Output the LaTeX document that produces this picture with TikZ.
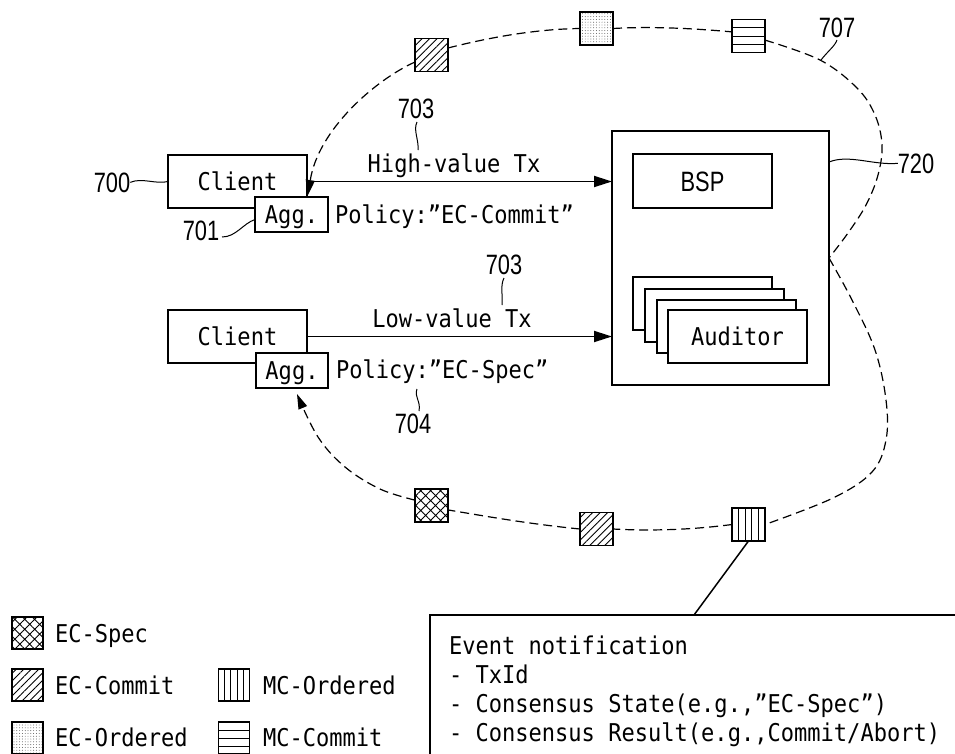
\documentclass[tikz,border=0pt]{standalone}
\usepackage{fontspec}
\newfontfamily\monof[FakeStretch=0.9]{DejaVu Sans Mono}
\newfontfamily\numf[FakeStretch=0.78]{Liberation Sans}
\usetikzlibrary{arrows.meta,patterns.meta,calc}
\begin{document}
\begin{tikzpicture}[x=1pt,y=-1pt,
  every node/.style={inner sep=0pt, outer sep=0pt},
  mtext/.style={font=\monof\fontsize{24.5}{29}\selectfont},
  ntext/.style={font=\numf\fontsize{28}{32}\selectfont},
  boxnode/.style={draw, line width=2pt, fill=white, mtext, text height=18pt, text depth=0pt},
  bspnode/.style={draw, line width=2pt, fill=white, ntext, text height=20pt, text depth=0pt},
  queue/.style={draw, line width=1.8pt, minimum width=33pt, minimum height=33pt, preaction={fill=white}},
  legsq/.style={minimum width=31pt, minimum height=32pt, line width=1.5pt},
  ecspec/.style={queue, pattern={Hatch[angle=45,distance=7pt,line width=0.9pt]}},
  eccommit/.style={queue, pattern={Lines[angle=45,distance=5.3pt,line width=0.9pt]}},
  ecordered/.style={queue, pattern={Dots[radius=0.45pt,distance=2.8pt]}, pattern color=black!75},
  mcordered/.style={queue, path picture={\foreach \k in {1,2,3,4}{\draw[line width=0.9pt] ($(path picture bounding box.north west)!\k/5!(path picture bounding box.north east)$) -- ($(path picture bounding box.south west)!\k/5!(path picture bounding box.south east)$);}}},
  mccommit/.style={queue, path picture={\foreach \k in {1,2,3}{\draw[line width=0.9pt] ($(path picture bounding box.north west)!\k/4!(path picture bounding box.south west)$) -- ($(path picture bounding box.north east)!\k/4!(path picture bounding box.south east)$);}}},
  txarrow/.style={line width=1.8pt, -{Triangle[length=18pt,width=11pt]}},
  looptip/.style={-{Triangle[length=15pt,width=9pt]}},
  loopline/.style={line width=1.2pt, dash pattern=on 9pt off 5pt},
  leader/.style={line width=1pt},
  evline/.style={line width=1.5pt}
]
\path[use as bounding box] (0,0) rectangle (955,753);
\clip (0,0) rectangle (955,753);

% big box
\node[draw, line width=2pt, minimum width=217pt, minimum height=254pt] (big) at (720.5,258) {};
\node[bspnode, minimum width=139pt, minimum height=54pt] (bsp) at (702.5,181) {BSP};
\node[boxnode, minimum width=139pt, minimum height=53pt] (aud1) at (702.5,303.5) {};
\node[boxnode, minimum width=139pt, minimum height=53pt] (aud2) at (714,315) {};
\node[boxnode, minimum width=139pt, minimum height=53pt] (aud3) at (726,326) {};
\node[boxnode, minimum width=139pt, minimum height=53pt] (aud4) at (737.5,336.5) {Auditor};

% clients
\node[boxnode, minimum width=139pt, minimum height=53pt] (client1) at (237.5,181.5) {Client};
\node[boxnode, minimum width=73pt, minimum height=35pt] (agg1) at (291.5,214.5) {Agg.};
\node[boxnode, minimum width=139pt, minimum height=53pt] (client2) at (237.5,336.5) {Client};
\node[boxnode, minimum width=72pt, minimum height=35pt] (agg2) at (292,370.5) {Agg.};

% transactions
\draw[txarrow] (client1.east) -- (client1.east -| big.west);
\draw[txarrow] (client2.east) -- (client2.east -| big.west);
\node[mtext, anchor=base] (hv) at (454,172) {High-value Tx};
\node[mtext, anchor=base west] (pol1) at (335,223) {Policy:”EC-Commit”};
\node[mtext, anchor=base] (lv) at (452,327) {Low-value Tx};
\node[mtext, anchor=base west] (pol2) at (336,378) {Policy:”EC-Spec”};

% reference numerals
\node[ntext, anchor=base] (n700) at (112,192) {700};
\node[ntext, anchor=base] (n701) at (201,240) {701};
\node[ntext, anchor=base] (n703a) at (416,118) {703};
\node[ntext, anchor=base] (n703b) at (504,274) {703};
\node[ntext, anchor=base] (n704) at (413,433) {704};
\node[ntext, anchor=base] (n707) at (837,37) {707};
\node[ntext, anchor=base] (n720) at (916,173) {720};

\coordinate (l703a) at (418,150);
\coordinate (l703b) at (502,305);
\coordinate (l704) at (417,389);
\coordinate (l707) at (821,60);
\coordinate (l720) at (829,162);

\draw[leader] (n700.east) .. controls +(12,-5) and +(-12,3) .. (client1.west);
\draw[leader] (222,237) .. controls +(14,0) and +(-12,4) .. ([yshift=-5pt]agg1.west);
\draw[leader] (417,122) .. controls +(-4,8) and +(1,-10) .. (l703a);
\draw[leader] (504,278) .. controls +(-4,8) and +(1,-10) .. (l703b);
\draw[leader] (419,411) .. controls +(2,-10) and +(-3,8) .. (l704);
\draw[leader] (837,40) .. controls +(-2,6) and +(6,-8) .. (l707);
\draw[leader] (l720) .. controls +(20,-8) and +(-25,2) .. (n720.west);

% queue squares on the loop
\node[eccommit] (qA) at (431.5,55) {};
\node[ecordered] (qB) at (596.5,28.5) {};
\node[mccommit] (qC) at (748.5,36) {};
\node[ecspec] (qD) at (431.5,505.5) {};
\node[eccommit] (qE) at (596.5,529) {};
\node[mcordered] (qF) at (748.5,524.5) {};

\coordinate (tip1) at (308,195);
\coordinate (tip2) at (297,394);

% the loop 707
\draw[loopline, looptip] (qA.203) .. controls (375,80) and (318,130) .. (tip1);
\draw[loopline] (qA.23) .. controls (495,36) and (540,29) .. (qB.west);
\draw[loopline] (qB.east) .. controls (655,26) and (700,29) .. (qC.166);
\draw[loopline] plot[smooth, tension=0.6] coordinates {(qC.-14) (820,60) (857,88) (875,115) (882,145) (878,175) (866,205) (848,233) (big.east)};
\draw[loopline] plot[smooth, tension=0.6] coordinates {(big.east) (852,300) (875,350) (886,400) (886,440) (872,472) (833,498) (qF.east)};
\draw[loopline] (qF.west) .. controls (690,530) and (650,531) .. (qE.east);
\draw[loopline] (qE.west) .. controls (530,524) and (490,517) .. (qD.-15);
\draw[loopline, looptip] plot[smooth, tension=0.6] coordinates {(qD.162) (380,489) (345,467) (318,437) (tip2)};

% event notification
\node[draw, evline, anchor=north west, minimum width=560pt, minimum height=170pt] (event) at (430,615) {};
\coordinate (evtop) at (694,615);
\draw[evline] (qF.south) -- (evtop);
\node[mtext, anchor=base west] (ev1) at (449,654) {Event notification};
\node[mtext, anchor=base west] (ev2) at (449,683) {- TxId};
\node[mtext, anchor=base west] (ev3) at (449,712) {- Consensus State(e.g.,”EC-Spec”)};
\node[mtext, anchor=base west] (ev4) at (449,741) {- Consensus Result(e.g.,Commit/Abort)};

% legend
\node[ecspec, legsq] (lgA) at (27.5,633) {};
\node[eccommit, legsq] (lgB) at (27.5,685) {};
\node[ecordered, legsq] (lgC) at (27.5,738) {};
\node[mcordered, legsq] (lgD) at (234,685) {};
\node[mccommit, legsq] (lgE) at (234,738) {};
\node[mtext, anchor=base west] (tA) at (55,642) {EC-Spec};
\node[mtext, anchor=base west] (tB) at (55,694) {EC-Commit};
\node[mtext, anchor=base west] (tC) at (55,746) {EC-Ordered};
\node[mtext, anchor=base west] (tD) at (263,694) {MC-Ordered};
\node[mtext, anchor=base west] (tE) at (263,746) {MC-Commit};
\end{tikzpicture}
\end{document}
